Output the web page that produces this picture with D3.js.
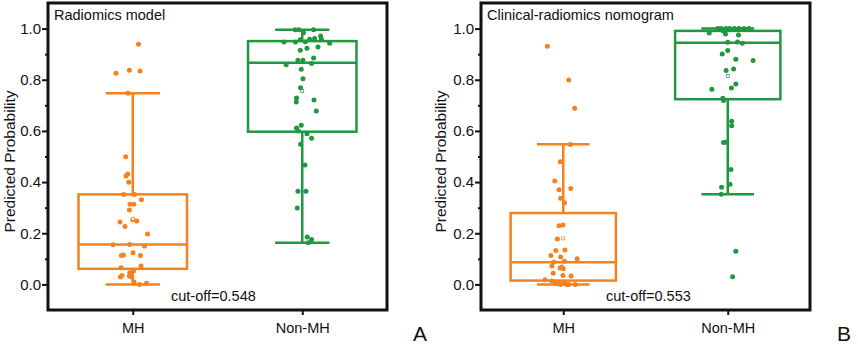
<!DOCTYPE html>
<html>
<head>
<meta charset="utf-8">
<script src="https://cdn.jsdelivr.net/npm/d3@7"></script>
<style>
  body { margin: 0; background: #fff; }
  text { font-family: Arial, "Liberation Sans", sans-serif; fill: #111; }
</style>
</head>
<body>
<div id="chart"></div>
<script>
// categories and tick labels
const groups = ["MH", "Non-MH"];
const yTicks = [0, 0.2, 0.4, 0.6, 0.8, 1.0];
const yMinor = [0.1, 0.3, 0.5, 0.7, 0.9];

// panel A : radiomics model
const aMH = [0.939, 0.825, 0.837, 0.834, 0.747, 0.499, 0.432, 0.424, 0.399, 0.351, 0.351, 0.331, 0.313, 0.313, 0.291, 0.253, 0.248, 0.244, 0.226, 0.197, 0.155, 0.156, 0.150, 0.113, 0.115, 0.124, 0.113, 0.065, 0.072, 0.052, 0.046, 0.035, 0.029, 0.033, 0.029, 0.009, 0.0, 0.005];
const aMHJit = [5.7, -16.7, -3.3, 7.3, -4.7, -7, -5, -6.7, -4, -9, 1.7, 8.7, -2.7, 1, -3.3, 0, 4, -12.7, -7.7, 14.7, -19.7, -3, 11.7, -11.3, -9.3, 0.3, 7.7, -11.7, 8.3, 0.7, -3, -10.7, -12.3, -3.3, -1.3, 1.3, 6.7, 13.7];
const aNon = [0.995, 0.995, 0.995, 0.984, 0.948, 0.948, 0.956, 0.949, 0.958, 0.961, 0.971, 0.958, 0.943, 0.928, 0.923, 0.915, 0.859, 0.876, 0.876, 0.885, 0.864, 0.841, 0.804, 0.769, 0.729, 0.713, 0.721, 0.678, 0.622, 0.611, 0.600, 0.589, 0.571, 0.548, 0.467, 0.364, 0.364, 0.299, 0.185, 0.176, 0.163];
const aNonJit = [-7, -3.3, 11.3, 1.3, -18.3, -6.7, -2, 3, 7.3, 12.3, 18.3, 19, 27.3, 15.7, 4.7, -2, -16, -4.3, 0.7, 11.3, 9.3, -1, 0.7, -1.7, -5.7, -6, 11.7, 14, -1, -5.7, -4, 4.7, 9.3, -1.7, 2.7, -4.3, 3.7, -5, 5, 9.3, 6];
// [whisker low, q1, median, q3, whisker high, mean]
const aMHBox = [0.0, 0.061, 0.156, 0.352, 0.747, 0.257];
const aNonBox = [0.163, 0.597, 0.866, 0.951, 0.995, 0.756];

// panel B : clinical-radiomics nomogram
const bMH = [0.931, 0.799, 0.689, 0.547, 0.479, 0.404, 0.375, 0.370, 0.337, 0.319, 0.229, 0.232, 0.178, 0.133, 0.135, 0.113, 0.100, 0.107, 0.087, 0.091, 0.072, 0.068, 0.061, 0.064, 0.044, 0.035, 0.033, 0.018, 0.013, 0.009, 0.005, 0.005, 0.0, 0.0, 0.0, 0.0, 0.003];
const bMHJit = [-16.3, 5.7, 11.7, 7.3, -3, -8.7, 7.7, -4.3, -2.7, 1.3, -4.3, -0.3, -6, -7.7, 1.7, -12.7, 14.3, -2.7, -9.7, 1.3, -11.7, -1.7, 0, -3.3, -10.3, -0.3, 8, -18.7, -11.7, -8.3, -4.3, 1, 5.7, 12.3, 3.3, -2.7, -7];
const bNon = [0.983, 1.0, 0.992, 0.979, 1.0, 1.0, 1.0, 1.0, 1.0, 1.0, 1.0, 0.975, 0.947, 0.948, 0.943, 0.901, 0.914, 0.880, 0.875, 0.836, 0.842, 0.763, 0.768, 0.783, 0.728, 0.719, 0.638, 0.620, 0.555, 0.556, 0.449, 0.380, 0.392, 0.352, 0.130, 0.030];
const bNonJit = [-19, -10, -5, -2.3, 1.7, 6.7, 11.7, 16.7, 21.7, -6.7, -1.7, 11, 0, 10, 15, -5.7, 0, 8.3, 26, -1.7, 6, -16.3, 3.7, 8.3, -5, -4.3, 4, 4, -4.3, -1.7, 3.3, -6.3, 2.3, -6.7, 8.3, 5];
const bMHBox = [0.0, 0.015, 0.087, 0.279, 0.548, 0.180];
const bNonBox = [0.352, 0.724, 0.945, 0.991, 1.0, 0.815];

const colors = { "MH": "#f5821f", "Non-MH": "#1f9840" };

const svg = d3.select("#chart").append("svg")
  .attr("width", 858)
  .attr("height", 346);

svg.append("rect").attr("width", 858).attr("height", 346).attr("fill", "#fff");

function drawPanel(p) {
  const g = svg.append("g");

  const x = d3.scalePoint()
    .domain(groups)
    .range([p.left, p.right])
    .padding(0.5);

  const y = d3.scaleLinear()
    .domain([-0.1, 1.1])
    .range([p.bottom, p.top]);

  const boxW = (p.right - p.left) * 0.32;
  const capW = (p.right - p.left) * 0.16;
  // jitter values were read in reference pixels, relative to a 108px box
  const jit = d3.scaleLinear().domain([-54, 54]).range([-boxW / 2, boxW / 2]);

  // y axis with major and minor ticks
  g.append("g")
    .attr("transform", `translate(${p.left},0)`)
    .call(d3.axisLeft(y).tickValues(yTicks).tickFormat(d3.format(".1f")).tickSize(6).tickPadding(1))
    .call(a => a.select(".domain").remove())
    .call(a => a.selectAll("line").attr("stroke", "#111").attr("stroke-width", 2))
    .call(a => a.selectAll("text").attr("font-size", 15).attr("fill", "#111")
      .attr("font-family", "Arial, 'Liberation Sans', sans-serif"));

  g.append("g")
    .attr("transform", `translate(${p.left},0)`)
    .call(d3.axisLeft(y).tickValues(yMinor).tickFormat("").tickSize(3))
    .call(a => a.select(".domain").remove())
    .call(a => a.selectAll("line").attr("stroke", "#111").attr("stroke-width", 2));

  // x axis
  g.append("g")
    .attr("transform", `translate(0,${p.bottom})`)
    .call(d3.axisBottom(x).tickSize(5).tickPadding(8))
    .call(a => a.select(".domain").remove())
    .call(a => a.selectAll("line").attr("stroke", "#111").attr("stroke-width", 2))
    .call(a => a.selectAll("text").attr("font-size", 14.5).attr("fill", "#111")
      .attr("font-family", "Arial, 'Liberation Sans', sans-serif"));

  // boxes
  p.boxes.forEach((b, i) => {
    const cx = x(groups[i]);
    const c = colors[groups[i]];
    const bg = g.append("g").attr("stroke", c).attr("stroke-width", 2.5).attr("fill", "none");
    bg.append("line").attr("x1", cx).attr("x2", cx).attr("y1", y(b[0])).attr("y2", y(b[1]));
    bg.append("line").attr("x1", cx).attr("x2", cx).attr("y1", y(b[3])).attr("y2", y(b[4]));
    bg.append("line").attr("x1", cx - capW / 2).attr("x2", cx + capW / 2).attr("y1", y(b[0])).attr("y2", y(b[0]));
    bg.append("line").attr("x1", cx - capW / 2).attr("x2", cx + capW / 2).attr("y1", y(b[4])).attr("y2", y(b[4]));
    bg.append("rect")
      .attr("x", cx - boxW / 2).attr("width", boxW)
      .attr("y", y(b[3])).attr("height", y(b[1]) - y(b[3]));
    bg.append("line").attr("x1", cx - boxW / 2).attr("x2", cx + boxW / 2).attr("y1", y(b[2])).attr("y2", y(b[2]));
  });

  // points
  p.points.forEach((s, i) => {
    const cx = x(groups[i]);
    g.append("g").selectAll("circle")
      .data(s.values)
      .enter()
      .append("circle")
        .attr("cx", (d, j) => cx + jit(s.jitter[j]))
        .attr("cy", d => y(d))
        .attr("r", 2.5)
        .attr("fill", colors[groups[i]]);
  });

  // mean markers
  p.boxes.forEach((b, i) => {
    const cx = x(groups[i]);
    g.append("rect")
      .attr("x", cx - 1.5).attr("y", y(b[5]) - 1.5)
      .attr("width", 3).attr("height", 3)
      .attr("fill", "#fff")
      .attr("stroke", colors[groups[i]])
      .attr("stroke-width", 0.7);
  });

  // frame
  g.append("rect")
    .attr("x", p.left).attr("y", p.top)
    .attr("width", p.right - p.left).attr("height", p.bottom - p.top)
    .attr("fill", "none").attr("stroke", "#111").attr("stroke-width", 3);

  g.append("text")
    .attr("x", p.left + 6).attr("y", p.top + 17)
    .attr("font-size", 14.5)
    .text(p.title);

  g.append("text")
    .attr("x", p.cutX).attr("y", p.bottom - 9)
    .attr("font-size", 14.5)
    .text(p.cut);

  g.append("text")
    .attr("transform", `translate(${p.labelX},${(p.top + p.bottom) / 2 + 5}) rotate(-90)`)
    .attr("text-anchor", "middle")
    .attr("font-size", 15.5)
    .text("Predicted Probability");

  g.append("text")
    .attr("x", p.letterX).attr("y", 341)
    .attr("font-size", 21)
    .text(p.letter);
}

drawPanel({
  left: 48, right: 387, top: 3, bottom: 310,
  title: "Radiomics model", cut: "cut-off=0.548", cutX: 171,
  labelX: 15, letter: "A", letterX: 413,
  boxes: [aMHBox, aNonBox],
  points: [{ values: aMH, jitter: aMHJit }, { values: aNon, jitter: aNonJit }]
});

drawPanel({
  left: 481, right: 810, top: 3, bottom: 310,
  title: "Clinical-radiomics nomogram", cut: "cut-off=0.553", cutX: 606,
  labelX: 446, letter: "B", letterX: 837,
  boxes: [bMHBox, bNonBox],
  points: [{ values: bMH, jitter: bMHJit }, { values: bNon, jitter: bNonJit }]
});
</script>
</body>
</html>
